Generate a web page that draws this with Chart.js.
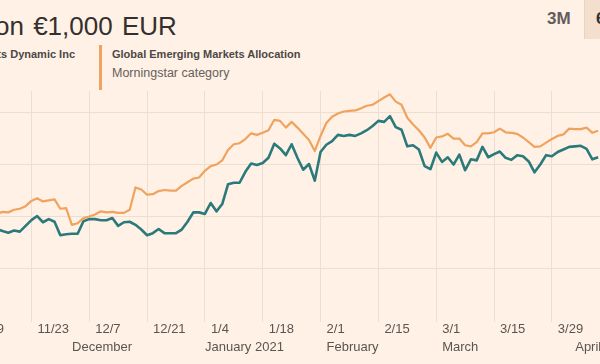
<!DOCTYPE html>
<html>
<head>
<meta charset="utf-8">
<script src="https://cdn.jsdelivr.net/npm/chart.js@4.4.1/dist/chart.umd.min.js"></script>
<style>
    html, body { margin: 0; padding: 0; }
    body {
        width: 600px; height: 364px; overflow: hidden; position: relative;
        background: #fff1e5; font-family: "Liberation Sans", Arial, sans-serif;
    }
    .titulo { position: absolute; left: -5px; top: 13px; font-size: 26px; line-height: 26px; color: #33302e; white-space: nowrap; word-spacing: 2px; }
    .serie { position: absolute; top: 49px; font-size: 11px; line-height: 11px; font-weight: bold; color: #4d4845; white-space: nowrap; }
    .serie.fondo { right: 525px; }
    .serie.categoria { left: 112px; }
    .sub { position: absolute; left: 112px; top: 66px; font-size: 12.5px; line-height: 15px; color: #66605c; white-space: nowrap; }
    .barra { position: absolute; left: 99px; top: 45px; width: 3px; height: 45px; background: #f0a35e; }
    .periodo { position: absolute; left: 547px; top: 10px; font-size: 17px; line-height: 17px; font-weight: bold; color: #625d5c; }
    .boton { position: absolute; left: 584px; top: 0; width: 40px; height: 39px; background: #f2dfcd; border-left: 1px solid #e8d3c0; }
    .boton span { position: absolute; left: 11px; top: 10px; font-size: 17px; line-height: 17px; font-weight: bold; color: #33302e; }
    #envoltura { position: absolute; left: -38px; top: 0; width: 673px; height: 364px; }
</style>
</head>
<body>
<div class="titulo">on €1,000 EUR</div>
<div class="serie fondo">Markets Dynamic Inc</div>
<div class="barra"></div>
<div class="serie categoria">Global Emerging Markets Allocation</div>
<div class="sub">Morningstar category</div>
<div class="periodo">3M</div>
<div class="boton"><span>6M</span></div>
<div id="envoltura"><canvas id="grafico"></canvas></div>
<script>
// trading-day index: 0 = 11/23/2020, one step per weekday
const primerIndice = -6;
const fondo = [975, 971, 968, 972, 970, 981, 992, 1000, 988, 994, 989, 963, 965, 966, 966, 990,
    994, 994, 992, 992, 996, 981, 988, 989, 983, 974, 963, 967, 975, 967, 967, 967,
    974, 989, 1007, 1007, 1004, 1025, 1009, 1023, 1061, 1064, 1064, 1085, 1101, 1098, 1102, 1112,
    1139, 1130, 1117, 1138, 1112, 1089, 1100, 1068, 1123, 1137, 1144, 1156, 1154, 1156, 1154, 1159,
    1165, 1173, 1183, 1181, 1192, 1171, 1166, 1134, 1136, 1128, 1096, 1090, 1122, 1104, 1113, 1099,
    1118, 1088, 1109, 1107, 1133, 1113, 1119, 1124, 1112, 1108, 1117, 1115, 1105, 1084, 1099, 1117,
    1115, 1123, 1128, 1133, 1134, 1135, 1129, 1109, 1113];
const categoria = [1004, 1008, 1007, 1012, 1014, 1019, 1029, 1034, 1028, 1030, 1032, 1014, 1015, 983, 986, 996,
    999, 1003, 1009, 1007, 1008, 1006, 1006, 1012, 1055, 1051, 1041, 1042, 1048, 1050, 1049, 1049,
    1058, 1065, 1072, 1074, 1087, 1096, 1099, 1107, 1127, 1138, 1140, 1148, 1159, 1156, 1160, 1165,
    1185, 1183, 1170, 1181, 1170, 1158, 1146, 1125, 1154, 1179, 1191, 1197, 1201, 1202, 1203, 1207,
    1212, 1214, 1221, 1228, 1234, 1220, 1214, 1189, 1176, 1165, 1151, 1131, 1151, 1153, 1158, 1149,
    1149, 1136, 1134, 1142, 1159, 1159, 1161, 1168, 1161, 1160, 1158, 1151, 1142, 1133, 1134, 1141,
    1148, 1154, 1157, 1168, 1167, 1167, 1170, 1160, 1164];
const etiquetasFecha = ['11/9', '11/23', '12/7', '12/21', '1/4', '1/18', '2/1', '2/15', '3/1', '3/15', '3/29', '4/12'];
const meses = ['December', 'January 2021', 'February', 'March', 'April'];
const indiceMeses = [6, 29, 50, 70, 93];

const colorTexto = '#5a5551';
const colorRejilla = '#ebdfd2';
const fuente = { family: "'Liberation Sans', Arial, sans-serif", size: 13 };

function puntos(valores) {
    return valores.map((v, i) => ({ x: primerIndice + i, y: v }));
}

const rotulosMeses = {
    id: 'rotulosMeses',
    afterDraw(chart) {
        const ctx = chart.ctx;
        const escala = chart.scales.x;
        ctx.save();
        ctx.font = '13px ' + fuente.family;
        ctx.fillStyle = colorTexto;
        ctx.textBaseline = 'middle';
        ctx.textAlign = 'left';
        meses.forEach((m, i) => {
            ctx.fillText(m, escala.getPixelForValue(indiceMeses[i]) + 6, 347.5);
        });
        ctx.restore();
    }
};

const anchoLienzo = 673;
const minX = -12;

new Chart(document.getElementById('grafico'), {
    type: 'line',
    data: {
        datasets: [
            {
                label: 'Global Emerging Markets Allocation',
                data: puntos(categoria),
                borderColor: '#f0a35e',
                borderWidth: 2.2,
                pointRadius: 0,
                tension: 0,
                borderJoinStyle: 'round'
            },
            {
                label: 'Markets Dynamic Inc',
                data: puntos(fondo),
                borderColor: '#2a7a7b',
                borderWidth: 2.6,
                pointRadius: 0,
                tension: 0,
                borderJoinStyle: 'round'
            }
        ]
    },
    options: {
        responsive: true,
        maintainAspectRatio: false,
        animation: false,
        events: [],
        layout: { padding: { top: 91, left: 0, right: 0, bottom: 0 } },
        plugins: { legend: { display: false }, tooltip: { enabled: false } },
        scales: {
            x: {
                type: 'linear',
                min: minX,
                max: minX + anchoLienzo / 5.8,
                border: { display: false },
                grid: { color: colorRejilla, drawTicks: false, lineWidth: 1 },
                ticks: {
                    stepSize: 10,
                    includeBounds: false,
                    autoSkip: false,
                    maxRotation: 0,
                    align: 'start',
                    labelOffset: 6,
                    padding: 0,
                    color: colorTexto,
                    font: fuente,
                    callback: v => etiquetasFecha[(v + 10) / 10] || ''
                },
                afterFit: eje => { eje.height = 42; }
            },
            y: {
                position: 'right',
                min: 796.2,
                max: 1240.4,
                border: { display: false },
                grid: {
                    drawTicks: false,
                    lineWidth: 1,
                    color: c => (c.tick && c.tick.value < 850) ? 'rgba(0,0,0,0)' : colorRejilla
                },
                ticks: { stepSize: 100, includeBounds: false, display: false },
                afterFit: eje => { eje.width = 0; }
            }
        }
    },
    plugins: [rotulosMeses]
});
</script>
</body>
</html>
